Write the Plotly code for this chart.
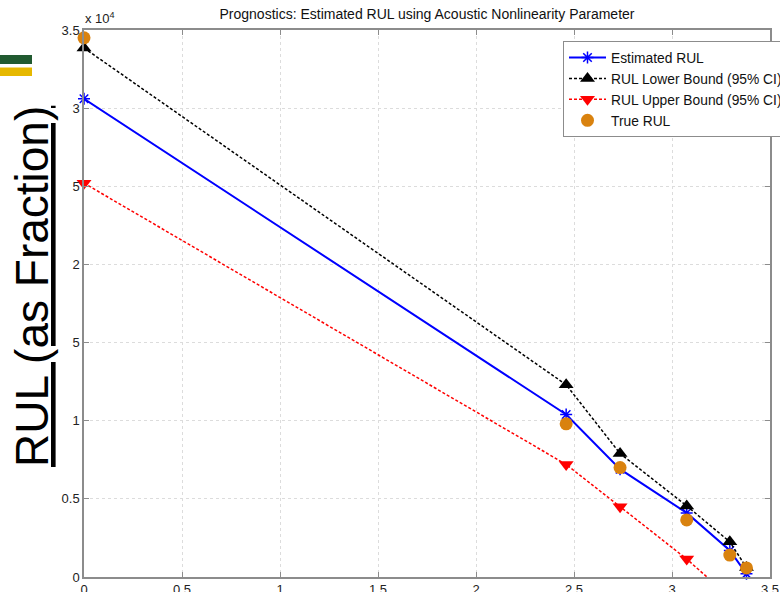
import plotly.graph_objects as go

# ---------------- data ----------------
x_vals = [0.0, 2.46, 2.735, 3.075, 3.295, 3.38]
est_rul = [30600, 10400, 6900, 4100, 1700, 200]
lower_bound = [33850, 12300, 7900, 4550, 2250, 600]
upper_bound = [25200, 7200, 4500, 1150, -1300, -2600]
true_rul = [34500, 9800, 7000, 3650, 1400, 580]

x_ticks = [0, 0.5, 1, 1.5, 2, 2.5, 3, 3.5]
x_ticktext = ["0", "0.5", "1", "1.5", "2", "2.5", "3", "3.5"]
y_ticks = [0, 5000, 10000, 15000, 20000, 25000, 30000, 35000]
y_ticktext = ["0", "0.5", "1", "1.5", "2", "2.5", "3", "3.5"]

# ---------------- layout geometry ----------------
W, H = 780, 592
ML, MR, MT, MB = 84, 10, 30, 15
PW, PH = W - ML - MR, H - MT - MB


def pxx(px):
    return (px - ML) / PW


def pxy(py):
    return (H - MB - py) / PH


FONT = "Liberation Sans, Arial, sans-serif"

fig = go.Figure()

fig.add_trace(go.Scatter(
    x=x_vals, y=est_rul, name="Estimated RUL", mode="lines+markers",
    line=dict(color="#0000ff", width=2),
    marker=dict(symbol="asterisk-open", size=10, color="#0000ff",
                line=dict(color="#0000ff", width=1.5)),
    cliponaxis=False,
))
fig.add_trace(go.Scatter(
    x=x_vals, y=lower_bound, name="RUL Lower Bound (95% CI)", mode="lines+markers",
    line=dict(color="#000000", width=1.5, dash="3px,2px"),
    marker=dict(symbol="triangle-up", size=13, color="#000000", line=dict(width=0)),
    cliponaxis=False,
))
fig.add_trace(go.Scatter(
    x=x_vals, y=upper_bound, name="RUL Upper Bound (95% CI)", mode="lines+markers",
    line=dict(color="#ff0000", width=1.5, dash="3px,2px"),
    marker=dict(symbol="triangle-down", size=13,
                color=["#ff0000" if v >= 0 else "rgba(255,0,0,0)" for v in upper_bound],
                line=dict(width=0)),
    cliponaxis=False,
))
fig.add_trace(go.Scatter(
    x=x_vals, y=true_rul, name="True RUL", mode="markers",
    marker=dict(symbol="circle", size=13, color="#d9820f", line=dict(width=0)),
    cliponaxis=False,
))

axis_common = dict(
    showline=True, linecolor="#8c8c8c", linewidth=1.5, mirror="ticks",
    ticks="inside", ticklen=5, tickcolor="#8c8c8c", tickwidth=1,
    showgrid=True, gridcolor="#dcdcdc", griddash="dot", gridwidth=1,
    zeroline=False, tickfont=dict(family=FONT, size=13, color="#222222"),
)

fig.update_xaxes(range=[0, 3.5], tickvals=x_ticks, ticktext=x_ticktext, **axis_common)
fig.update_yaxes(range=[0, 35000], tickvals=y_ticks, ticktext=y_ticktext, **axis_common)

shapes = [
    # white box behind the big overlaid label
    dict(type="rect", xref="paper", yref="paper", x0=pxx(0), x1=pxx(72),
         y0=pxy(478), y1=pxy(95), fillcolor="white", line=dict(width=0), layer="above"),
    # green / yellow slide bars
    dict(type="rect", xref="paper", yref="paper", x0=pxx(0), x1=pxx(32),
         y0=pxy(64), y1=pxy(55), fillcolor="#215a30", line=dict(width=0), layer="above"),
    dict(type="rect", xref="paper", yref="paper", x0=pxx(0), x1=pxx(32),
         y0=pxy(76), y1=pxy(67.5), fillcolor="#e6b800", line=dict(width=0), layer="above"),
]

annotations = [
    dict(text="<u>RUL (as Fraction)</u>", xref="paper", yref="paper",
         x=pxx(32), y=pxy(287), xanchor="center", yanchor="middle",
         textangle=-90, showarrow=False,
         font=dict(family=FONT, size=46, color="#000000")),
    dict(text="x 10<sup>4</sup>", xref="paper", yref="paper",
         x=pxx(83), y=pxy(18), xanchor="left", yanchor="middle",
         showarrow=False, font=dict(family=FONT, size=13, color="#222222")),
]

fig.update_layout(
    width=W, height=H,
    margin=dict(l=ML, r=MR, t=MT, b=MB, autoexpand=False),
    paper_bgcolor="white", plot_bgcolor="white",
    title=dict(text="Prognostics: Estimated RUL using Acoustic Nonlinearity Parameter",
               x=0.5, xref="paper", y=1 - 14 / H, yref="container",
               xanchor="center", yanchor="middle",
               font=dict(family=FONT, size=14, color="#111111")),
    legend=dict(x=pxx(563), y=pxy(41), xanchor="left", yanchor="top",
                bgcolor="white", bordercolor="#8c8c8c", borderwidth=1,
                font=dict(family=FONT, size=13.8, color="#111111"),
                itemwidth=37),
    shapes=shapes,
    annotations=annotations,
    showlegend=True,
)

fig.write_html("out.html")
